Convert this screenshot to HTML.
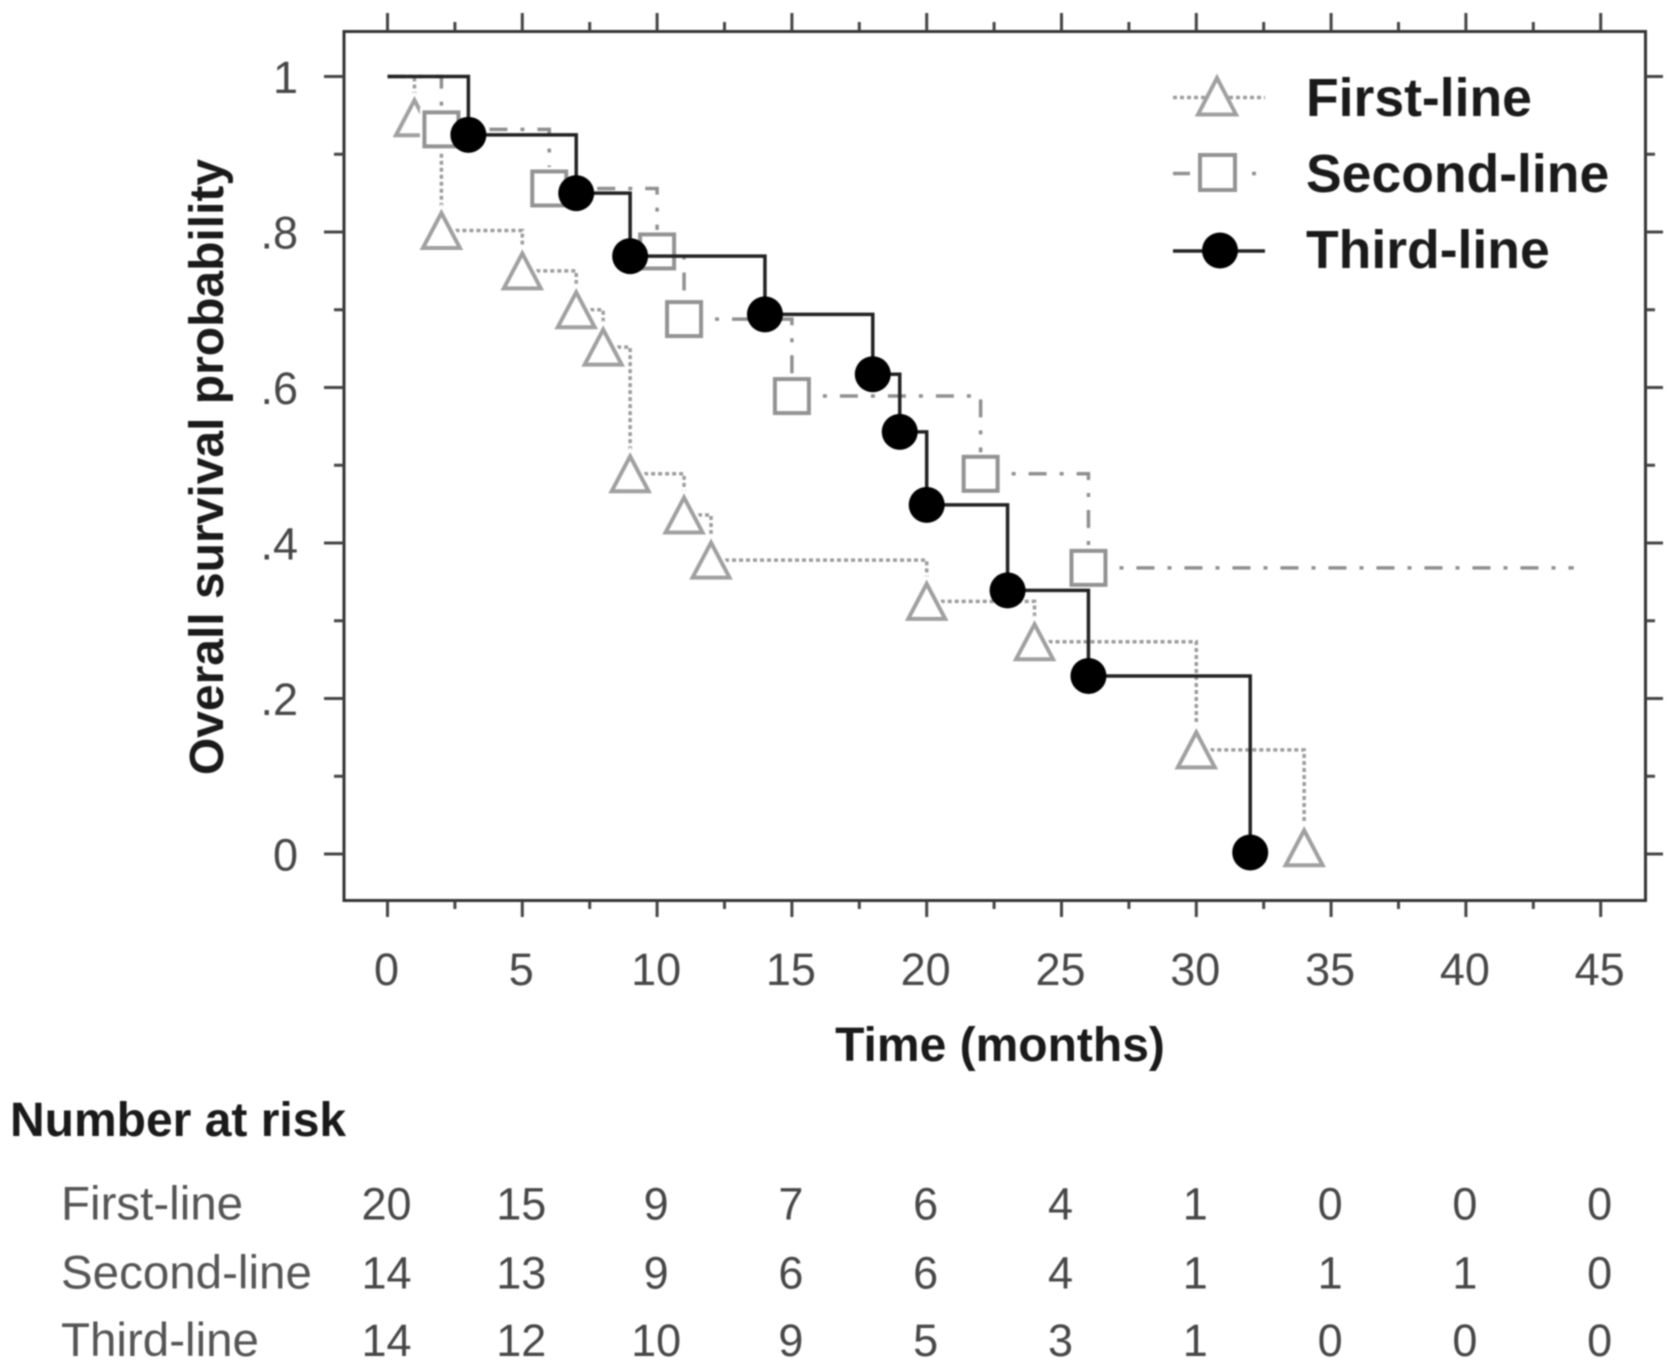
<!DOCTYPE html>
<html lang="en">
<head>
<meta charset="utf-8">
<title>Overall survival by treatment line</title>
<style>
  html, body { margin: 0; padding: 0; background: #fff; }
  svg { display: block; filter: blur(0.9px); }
  text { font-family: "Liberation Sans", sans-serif; }
  .bold { font-weight: 700; fill: #1a1a1a; }
  .tick-label { font-size: 45px; fill: #474747; }
</style>
</head>
<body>
<svg id="chart" xmlns="http://www.w3.org/2000/svg" width="1677" height="1369" viewBox="0 0 1677 1369">
  <rect x="0" y="0" width="1677" height="1369" fill="#fff"/>
  <g id="series-layer"></g>
  <rect x="344" y="31.5" width="1301.5" height="869" fill="none" stroke="#333" stroke-width="3"/>
  <g id="axis-layer"></g>
  <text class="bold" font-size="48" text-anchor="middle" transform="translate(223 467) rotate(-90)">Overall survival probability</text>
  <text class="bold" font-size="48" text-anchor="middle" x="1000" y="1061">Time (months)</text>
  <g>
    <g>
      <path d="M1173 97.5H1265" fill="none" stroke="#9c9c9c" stroke-width="3.5" stroke-dasharray="4 3"/>
      <path d="M1217 78L1236 114.5H1198Z" fill="#fff" stroke="#a0a0a0" stroke-width="4"/>
      <text class="bold" font-size="53.5" x="1306" y="116">First-line</text>
    </g>
    <g>
      <path d="M1173 173.5H1190M1252 173.5H1256" fill="none" stroke="#909090" stroke-width="3.5"/>
      <rect x="1200" y="155" width="35" height="35" fill="#fff" stroke="#939393" stroke-width="4"/>
      <text class="bold" font-size="53.5" x="1306" y="192">Second-line</text>
    </g>
    <g>
      <path d="M1173 251H1265" fill="none" stroke="#222" stroke-width="3.5"/>
      <circle cx="1220" cy="250.5" r="18" fill="#000"/>
      <text class="bold" font-size="53.5" x="1306" y="268">Third-line</text>
    </g>
  </g>
  <text class="bold" font-size="48" x="10" y="1136">Number at risk</text>
  <g id="risk-layer"></g>
</svg>
<script>
// ---- chart data ----
const xTickValues = [0, 5, 10, 15, 20, 25, 30, 35, 40, 45];
const xMinorValues = [2.5, 7.5, 12.5, 17.5, 22.5, 27.5, 32.5, 37.5, 42.5];
const yTickValues = [0, 0.2, 0.4, 0.6, 0.8, 1];
const yTickLabels = ['0', '.2', '.4', '.6', '.8', '1'];
const yMinorValues = [0.1, 0.3, 0.5, 0.7, 0.9];

const firstTimes = [0, 1, 2, 5, 7, 8, 9, 11, 12, 20, 24, 30, 34];
const firstSurvival = [1, 0.947, 0.802, 0.75, 0.70, 0.652, 0.489, 0.436, 0.378, 0.325, 0.273, 0.134, 0.008];

const secondTimes = [0, 2, 6, 10, 11, 15, 22, 26];
const secondSurvival = [1, 0.932, 0.856, 0.775, 0.688, 0.589, 0.489, 0.368];
const secondEndTime = 44;

const thirdTimes = [0, 3, 7, 9, 14, 18, 19, 20, 23, 26, 32];
const thirdSurvival = [1, 0.925, 0.85, 0.769, 0.694, 0.617, 0.543, 0.449, 0.339, 0.229, 0.002];

const riskRowLabels = ['First-line', 'Second-line', 'Third-line'];
const riskFirst = [20, 15, 9, 7, 6, 4, 1, 0, 0, 0];
const riskSecond = [14, 13, 9, 6, 6, 4, 1, 1, 1, 0];
const riskThird = [14, 12, 10, 9, 5, 3, 1, 0, 0, 0];

// ---- axis functions ----
const xScale = t => 387.5 + t * 26.96;
const yScale = s => 854 - s * 777.5;

const NS = 'http://www.w3.org/2000/svg';
function make(tag, attrs, parent) {
  const el = document.createElementNS(NS, tag);
  for (const k in attrs) el.setAttribute(k, attrs[k]);
  parent.appendChild(el);
  return el;
}
const seriesLayer = document.getElementById('series-layer');
const axisLayer = document.getElementById('axis-layer');
const riskLayer = document.getElementById('risk-layer');

// ---- ticks ----
function hTick(y, x1, x2) {
  const el = make('line', { x1: x1, x2: x2, y1: y, y2: y, stroke: '#444', 'stroke-width': 3 }, axisLayer);
  
  
}
function vTick(x, y1, y2) {
  const el = make('line', { x1: x, x2: x, y1: y1, y2: y2, stroke: '#444', 'stroke-width': 3 }, axisLayer);
  
  
}
xTickValues.forEach(v => {
  vTick(xScale(v), 13, 31);
  vTick(xScale(v), 901, 917);
  const label = make('text', { class: 'tick-label', x: xScale(v) - 1, y: 985, 'text-anchor': 'middle' }, axisLayer);
  
  
  label.textContent = String(v);
});
xMinorValues.forEach(v => {
  vTick(xScale(v), 22, 31);
  vTick(xScale(v), 901, 909);
});
yTickValues.forEach((v, i) => {
  hTick(yScale(v), 324, 344);
  hTick(yScale(v), 1646, 1663);
  const label = make('text', { class: 'tick-label', x: 298, y: yScale(v) + 16.5, 'text-anchor': 'end' }, axisLayer);
  
  
  label.textContent = yTickLabels[i];
});
yMinorValues.forEach(v => {
  hTick(yScale(v), 334, 344);
  hTick(yScale(v), 1646, 1655);
});

// ---- series ----
function drawSteps(times, surv, endTime, color, width, dash, seriesName) {
  times.forEach((t, i) => {
    const hasNext = i < times.length - 1;
    if (!hasNext && endTime === null) return;
    const nextT = hasNext ? times[i + 1] : endTime;
    let d = 'M' + xScale(t) + ' ' + yScale(surv[i]) + 'H' + xScale(nextT);
    if (hasNext) d += 'V' + yScale(surv[i + 1]);
    const seg = make('path', { d: d, fill: 'none', stroke: color, 'stroke-width': width, 'stroke-dasharray': dash }, seriesLayer);
    
    
  });
}

function triangleMarker(t, s) {
  const x = xScale(t), y = yScale(s);
  const d = 'M' + x + ' ' + (y - 17.5) + 'L' + (x + 18.5) + ' ' + (y + 17.5) + 'H' + (x - 18.5) + 'Z';
  const halo = make('path', { d: d, fill: '#fff', stroke: '#fff', 'stroke-width': 9 }, seriesLayer);
  
  
  const el = make('path', { d: d, fill: '#fff', stroke: '#a0a0a0', 'stroke-width': 4 }, seriesLayer);
  
  
}
function squareMarker(t, s) {
  const x = xScale(t) - 17, y = yScale(s) - 17;
  const halo = make('rect', { x: x, y: y, width: 34, height: 34, fill: '#fff', stroke: '#fff', 'stroke-width': 9 }, seriesLayer);
  
  
  const el = make('rect', { x: x, y: y, width: 34, height: 34, fill: '#fff', stroke: '#939393', 'stroke-width': 4 }, seriesLayer);
  
  
}
function circleMarker(t, s) {
  const el = make('circle', { cx: xScale(t), cy: yScale(s), r: 18, fill: '#000' }, seriesLayer);
  
  
}

drawSteps(firstTimes, firstSurvival, null, '#9c9c9c', 3.5, '4 3', 'first-line');
firstTimes.forEach((t, i) => { if (i > 0) triangleMarker(t, firstSurvival[i]); });

drawSteps(secondTimes, secondSurvival, secondEndTime, '#909090', 3.5, '18 13 4 13', 'second-line');
secondTimes.forEach((t, i) => { if (i > 0) squareMarker(t, secondSurvival[i]); });

drawSteps(thirdTimes, thirdSurvival, null, '#222', 3.5, 'none', 'third-line');
thirdTimes.forEach((t, i) => { if (i > 0) circleMarker(t, thirdSurvival[i]); });

// ---- number-at-risk table ----
const riskRows = [riskFirst, riskSecond, riskThird];
const riskBaselines = [1219.5, 1288.5, 1356];
riskRows.forEach((row, r) => {
  const head = make('text', { x: 61, y: riskBaselines[r], 'font-size': 47.5, fill: '#555' }, riskLayer);
  
  
  head.textContent = riskRowLabels[r];
  row.forEach((n, c) => {
    const cell = make('text', { class: 'tick-label', x: xScale(xTickValues[c]) - 1, y: riskBaselines[r], 'text-anchor': 'middle' }, riskLayer);
    
    
    cell.textContent = String(n);
  });
});
</script>
</body>
</html>
